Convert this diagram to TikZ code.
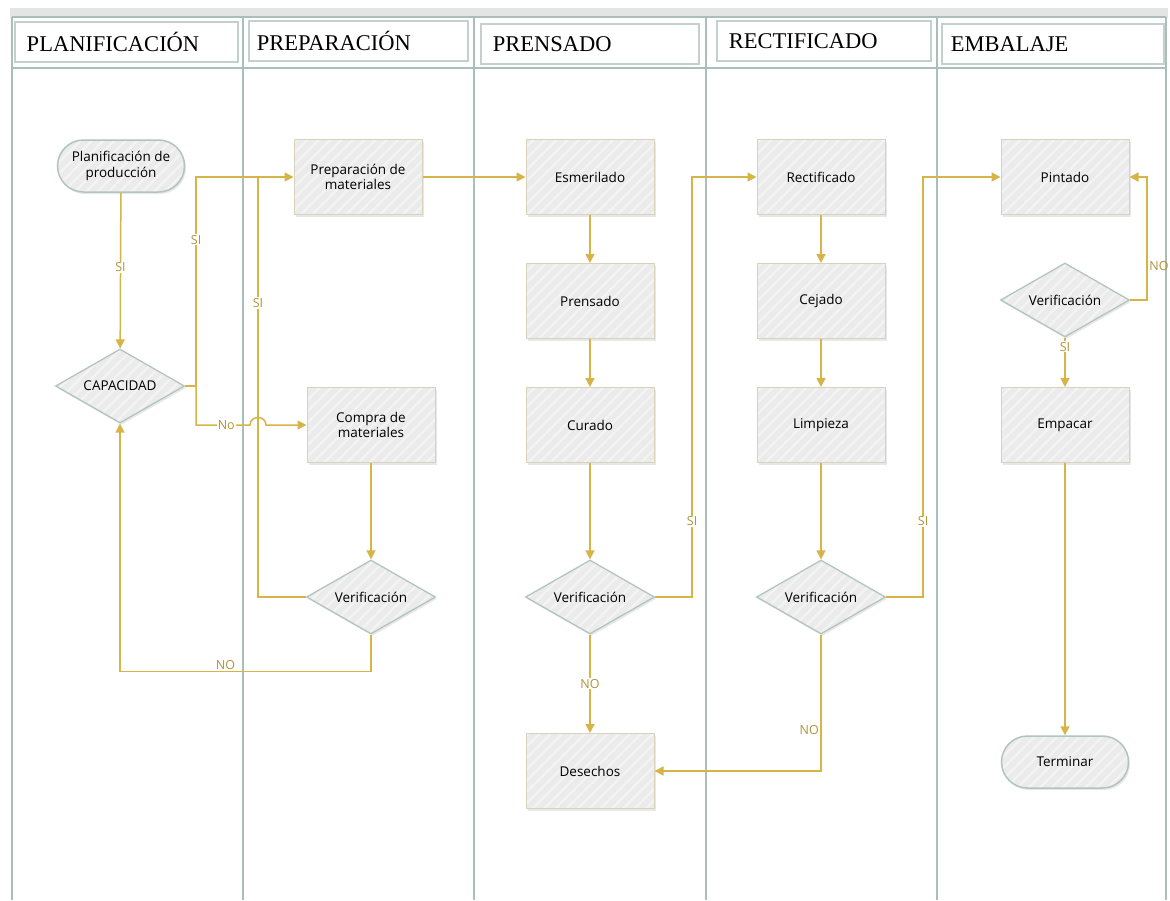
\documentclass[tikz,border=0pt]{standalone}
\usepackage{fontspec}
\setmainfont{Liberation Serif}
\newfontfamily\nodefont{Open Sans}
\usetikzlibrary{arrows.meta,shapes.geometric,shadows,patterns.meta}

\definecolor{lanec}{RGB}{170,190,186}
\definecolor{hdrbox}{RGB}{196,208,204}
\definecolor{bandc}{RGB}{226,229,228}
\definecolor{boxfill}{RGB}{235,235,235}
\definecolor{stripe}{RGB}{243,243,243}
\definecolor{boxedge}{RGB}{216,210,186}
\definecolor{decedge}{RGB}{178,196,192}
\definecolor{flowc}{RGB}{214,180,72}
\definecolor{lblc}{RGB}{178,148,58}

\tikzset{
  base/.style={font=\nodefont\fontsize{13.5}{15.5}\selectfont, align=center,
    line width=1pt,
    drop shadow={shadow xshift=1.5pt, shadow yshift=-2pt, opacity=0.18},
    preaction={fill=boxfill},
    preaction={pattern={Lines[angle=45,distance=8pt,line width=2.5pt]}, pattern color=stripe}},
  proc/.style={base, rectangle, draw=boxedge, minimum width=128pt, minimum height=75pt},
  dec/.style={base, diamond, shape aspect=1.74, draw=decedge, line width=1.3pt,
    minimum width=129pt, minimum height=74pt, inner sep=0pt},
  term/.style={base, rectangle, rounded corners=26pt, draw=decedge, line width=1.5pt,
    minimum width=127pt, minimum height=52pt},
  hdr/.style={draw=hdrbox, fill=white, line width=1.5pt, inner xsep=12pt, inner ysep=0pt,
    minimum height=40pt, align=left, anchor=north west, font=\fontsize{22.5}{24}\selectfont},
  lane/.style={draw=lanec, line width=2.5pt},
  flowline/.style={draw=flowc, line width=1.5pt},
  flow/.style={flowline, -{Triangle[length=9pt,width=9pt]}},
  lbl/.style={font=\nodefont\fontsize{12.5}{13}\selectfont, text=lblc, fill=white, inner sep=1pt},
  lblplain/.style={font=\nodefont\fontsize{12.5}{13}\selectfont, text=lblc, inner sep=1.5pt}
}

\begin{document}
\begin{tikzpicture}[x=1pt,y=-1pt]
\useasboundingbox (0,0) rectangle (1170,900);
\fill[white] (0,0) rectangle (1170,900);

% top band and swimlane frame
\fill[bandc] (10,8) rectangle (1168,18);
\foreach \lx in {12,243,474,706,937,1166}
  \draw[lane] (\lx,17) -- (\lx,900);
\draw[lane] (12,17) -- (1166,17);
\draw[lane] (12,68) -- (1166,68);

% lane headers
\node[hdr, text width=199pt] (hplan) at (14,21) {PLANIFICACIÓN};
\node[hdr, text width=203pt, inner xsep=8pt] (hprep) at (248,20) {PREPARACIÓN};
\node[hdr, text width=194pt] (hpren) at (480,23) {PRENSADO};
\node[hdr, text width=190pt] (hrect) at (716,20) {RECTIFICADO};
\node[hdr, text width=204pt, inner xsep=9pt] (hemb) at (941,23) {EMBALAJE};

% planning lane
\node[term] (plan) at (121,166) {Planificación de\\producción};
\node[dec] (cap) at (120,386) {CAPACIDAD};

% preparation lane
\node[proc] (prep) at (358,177) {Preparación de\\materiales};
\node[proc] (comp) at (371,425) {Compra de\\materiales};
\node[dec] (verP) at (371,597) {Verificación};

% pressing lane
\node[proc] (esm) at (590,177) {Esmerilado};
\node[proc] (pren) at (590,301) {Prensado};
\node[proc] (cur) at (590,425) {Curado};
\node[dec] (verPr) at (590,597) {Verificación};
\node[proc] (des) at (590,771) {Desechos};

% grinding lane
\node[proc] (rect) at (821,177) {Rectificado};
\node[proc] (cej) at (821,301) {Cejado};
\node[proc] (lim) at (821,425) {Limpieza};
\node[dec] (verR) at (821,597) {Verificación};

% packing lane
\node[proc] (pint) at (1065,177) {Pintado};
\node[dec] (verE) at (1065,300) {Verificación};
\node[proc] (emp) at (1065,425) {Empacar};
\node[term] (term) at (1065,762) {Terminar};

% connectors
\draw[flow] (plan) -- node[lbl, pos=0.48]{SI} (cap);
\draw[flow] (cap.east) -- ++(11,0) |- node[lbl, pos=0.35]{SI} (prep.west);
\draw[flow] (cap.east) -- ++(11,0) |- node[lbl, pos=0.78]{No} (250,425)
  .. controls (250,415) and (266,415) .. (266,425) -- (comp.west);
\draw[flow] (comp) -- (verP);
\draw[flowline] (verP.west) -| node[lbl, pos=0.85]{SI} (258,177);
\draw[flow] (verP.south) -- ++(0,37) -| node[lblplain, anchor=south, pos=0.29]{NO} (cap.south);

\draw[flow] (prep) -- (esm);
\draw[flow] (esm) -- (pren);
\draw[flow] (pren) -- (cur);
\draw[flow] (cur) -- (verPr);
\draw[flow] (verPr.east) -- ++(37,0) |- node[lbl, pos=0.09]{SI} (rect.west);
\draw[flow] (verPr) -- node[lbl]{NO} (des);

\draw[flow] (rect) -- (cej);
\draw[flow] (cej) -- (lim);
\draw[flow] (lim) -- (verR);
\draw[flow] (verR.east) -- ++(37,0) |- node[lbl, pos=0.09]{SI} (pint.west);
\draw[flow] (verR.south) |- node[lblplain, anchor=east, pos=0.35]{NO} (des.east);

\draw[flow] (verE.east) -- ++(17,0) |- node[lblplain, anchor=west, pos=0.14]{NO} (pint.east);
\draw[flow] (verE) -- node[lbl, pos=0.18]{SI} (emp);
\draw[flow] (emp) -- (term);
\end{tikzpicture}
\end{document}
